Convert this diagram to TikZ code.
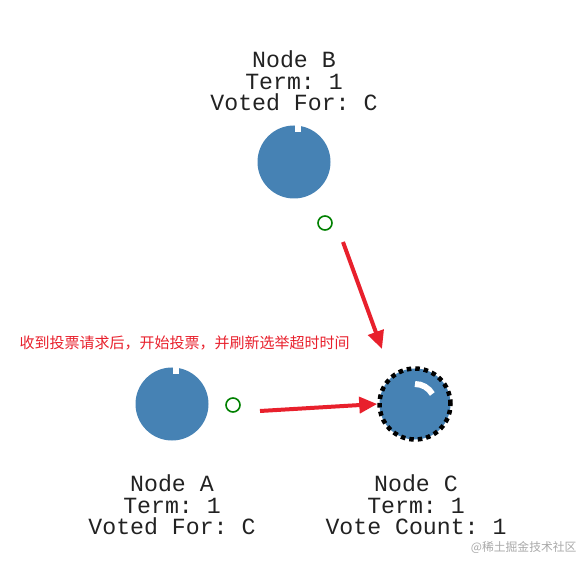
\documentclass[tikz,border=0pt]{standalone}
\usepackage{fontspec}
\usepackage{xcolor}
\usepackage{tikz}
\usetikzlibrary{arrows.meta,positioning,calc}
\setmonofont{Liberation Mono}
\newfontfamily\cjk{Noto Sans CJK SC}
\definecolor{rblue}{HTML}{4682B4}
\definecolor{rgreen}{HTML}{008000}
\definecolor{rred}{HTML}{E8202C}
\definecolor{rtext}{HTML}{222222}
\definecolor{rmark}{HTML}{A8A8A8}

\begin{document}
\begin{tikzpicture}[x=1pt,y=-1pt,
  server/.style={circle,fill=rblue,minimum size=73pt,inner sep=0pt},
  timer/.style={circle,draw=rgreen,line width=1.6pt,minimum size=14pt,inner sep=0pt},
  info/.style={align=center,text=rtext,font=\ttfamily\fontsize{23.2}{21.5}\selectfont},
  vote/.style={rred,line width=4pt,-{Triangle[length=18pt,width=16pt]}}]
  \useasboundingbox (0,0) rectangle (584,561);
  % servers
  \node[server] (nodeB) at (294,162) {};
  \node[server] (nodeA) at (172,404) {};
  \node[server,minimum size=71pt,draw=black,line width=4.5pt,dash pattern=on 4.5pt off 4pt] (nodeC) at (415,404) {};
  \fill[white] ($(nodeB.north)+(1,-1)$) rectangle ++(6,8);
  \fill[white] ($(nodeA.north)+(1,-1)$) rectangle ++(6,8);
  \draw[white,line width=6pt] ($(nodeC.center)+(-30:20)$) arc[start angle=-30,end angle=-90,radius=20];
  % election timers
  \node[timer] (dotB) at (325,223) {};
  \node[timer] (dotA) at (233,405) {};
  % labels
  \node[info] (infoB) at (294,81) {Node B\\Term: 1\\Voted For: C};
  \node[info] (infoA) at (172,505) {Node A\\Term: 1\\Voted For: C};
  \node[info] (infoC) at (416,505) {Node C\\Term: 1\\Vote Count: 1};
  % vote requests
  \coordinate (reqB) at (343,242);
  \coordinate (tipB) at (382,349);
  \coordinate (reqA) at (260,411);
  \draw[vote] (reqB) -- (tipB);
  \draw[vote] (reqA) -- (nodeC.west);
  \node[anchor=west,text=rred,font=\cjk\fontsize{15}{17}\selectfont] (note) at (16,343) {收到投票请求后，开始投票，并刷新选举超时时间};
  \node[anchor=east,text=rmark,font=\cjk\fontsize{11.8}{14}\selectfont] (mark) at (580,548) {@稀土掘金技术社区};
\end{tikzpicture}
\end{document}
